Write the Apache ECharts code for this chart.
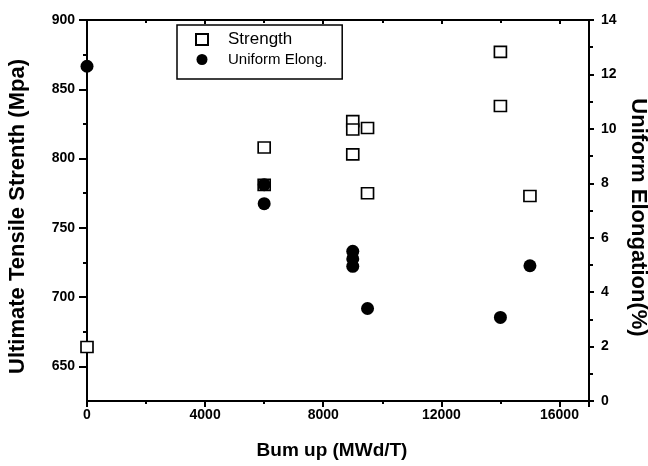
<!DOCTYPE html>
<html>
<head>
<meta charset="utf-8">
<script src="https://cdn.jsdelivr.net/npm/echarts@6/dist/echarts.min.js"></script>
<style>html,body{margin:0;padding:0;background:#fff}#c{width:648px;height:466px}</style>
</head>
<body>
<div id="c"></div>
<script>
// Data
const burnupStrength = [0, 6000, 6000, 9000, 9000, 9000, 9500, 9500, 14000, 14000, 15000];
const strengthMpa    = [664, 808, 781, 827, 821, 803, 822, 775, 877, 838, 773];
const burnupElong    = [0, 6000, 6000, 9000, 9000, 9000, 9500, 14000, 15000];
const elongPct       = [12.3, 7.95, 7.25, 5.5, 5.22, 4.95, 3.4, 3.07, 4.97];
const leftTicks      = [650, 700, 750, 800, 850, 900];
const leftMinorTicks = [675, 725, 775, 825, 875];
const seriesNames    = ['Strength', 'Uniform Elong.'];

const chart = echarts.init(document.getElementById('c'));
const FONT = 'Liberation Sans, Arial, sans-serif';
const line = {show: true, lineStyle: {color: '#000', width: 2}};
const tickLabel = {color: '#000', fontFamily: FONT, fontWeight: 'bold', fontSize: 14};

chart.setOption({
  animation: false,
  backgroundColor: '#fff',
  grid: {left: 87, right: 59, top: 20, bottom: 65, containLabel: false, outerBoundsMode: 'none'},
  legend: {
    left: 177, top: 25, orient: 'vertical',
    data: seriesNames,
    itemWidth: 12, itemHeight: 11, itemGap: 4,
    padding: [6, 15, 12, 18],
    borderColor: '#000', borderWidth: 1.5, borderRadius: 0,
    formatter: n => n === 'Strength' ? '{a|' + n + '}' : '{b|' + n + '}',
    textStyle: {
      rich: {
        a: {fontFamily: FONT, fontSize: 17, color: '#000', padding: [0, 0, 0, 15]},
        b: {fontFamily: FONT, fontSize: 15, color: '#000', padding: [0, 0, 0, 15]}
      }
    }
  },
  xAxis: [{
    type: 'value', position: 'bottom', min: 0, max: 17000, interval: 4000,
    axisLine: line,
    axisTick: {show: true, inside: false, length: 6, lineStyle: {width: 2, color: '#000'}},
    minorTick: {show: true, splitNumber: 2, length: 3, lineStyle: {width: 2, color: '#000'}},
    splitLine: {show: false},
    axisLabel: Object.assign({margin: 7, showMaxLabel: false, formatter: v => String(v)}, tickLabel),
    name: 'Bum up (MWd/T)', nameLocation: 'middle', nameGap: 40,
    nameTextStyle: {color: '#000', fontFamily: FONT, fontWeight: 'bold', fontSize: 19, padding: [0, 12, 0, 0]}
  }, {
    type: 'value', position: 'top', min: 0, max: 17000, interval: 4000,
    axisLine: line,
    axisTick: {show: true, inside: true, length: 4, lineStyle: {width: 2, color: '#000'}},
    minorTick: {show: true, splitNumber: 2, length: 3, lineStyle: {width: 2, color: '#000'}},
    splitLine: {show: false},
    axisLabel: {show: false}
  }],
  yAxis: [{
    type: 'value', position: 'left', min: 625, max: 900, interval: 25,
    axisLine: line,
    axisTick: {show: true, inside: false, length: 8, customValues: leftTicks, lineStyle: {width: 2, color: '#000'}},
    splitLine: {show: false},
    axisLabel: Object.assign({margin: 12, customValues: leftTicks}, tickLabel),
    name: 'Ultimate Tensile Strenth (Mpa)', nameLocation: 'middle', nameGap: 58, nameRotate: 90,
    nameTextStyle: {color: '#000', fontFamily: FONT, fontWeight: 'bold', fontSize: 22, padding: [0, 12, 0, 0]}
  }, {
    type: 'value', position: 'left', min: 625, max: 900, interval: 25,
    axisLine: {show: false},
    axisTick: {show: true, inside: false, length: 4, customValues: leftMinorTicks, lineStyle: {width: 2, color: '#000'}},
    splitLine: {show: false},
    axisLabel: {show: false}
  }, {
    type: 'value', position: 'right', min: 0, max: 14, interval: 2,
    axisLine: line,
    axisTick: {show: true, inside: false, length: 5, lineStyle: {width: 2, color: '#000'}},
    minorTick: {show: true, splitNumber: 2, length: 4, lineStyle: {width: 2, color: '#000'}},
    splitLine: {show: false},
    axisLabel: Object.assign({margin: 12}, tickLabel),
    name: 'Uniform Elongation(%)', nameLocation: 'middle', nameGap: 34, nameRotate: -90,
    nameTextStyle: {color: '#000', fontFamily: FONT, fontWeight: 'bold', fontSize: 22, padding: [0, 0, 0, 14]}
  }],
  series: [{
    name: seriesNames[0], type: 'scatter', xAxisIndex: 0, yAxisIndex: 0,
    symbol: 'rect', symbolSize: [12, 11],
    itemStyle: {color: '#fff', borderColor: '#000', borderWidth: 1.6, opacity: 1},
    data: burnupStrength.map((x, i) => [x, strengthMpa[i]]),
    z: 2
  }, {
    name: seriesNames[1], type: 'scatter', xAxisIndex: 0, yAxisIndex: 2,
    symbol: 'circle', symbolSize: 13,
    itemStyle: {color: '#000', opacity: 1},
    data: burnupElong.map((x, i) => [x, elongPct[i]]),
    z: 3
  }]
});
</script>
</body>
</html>
